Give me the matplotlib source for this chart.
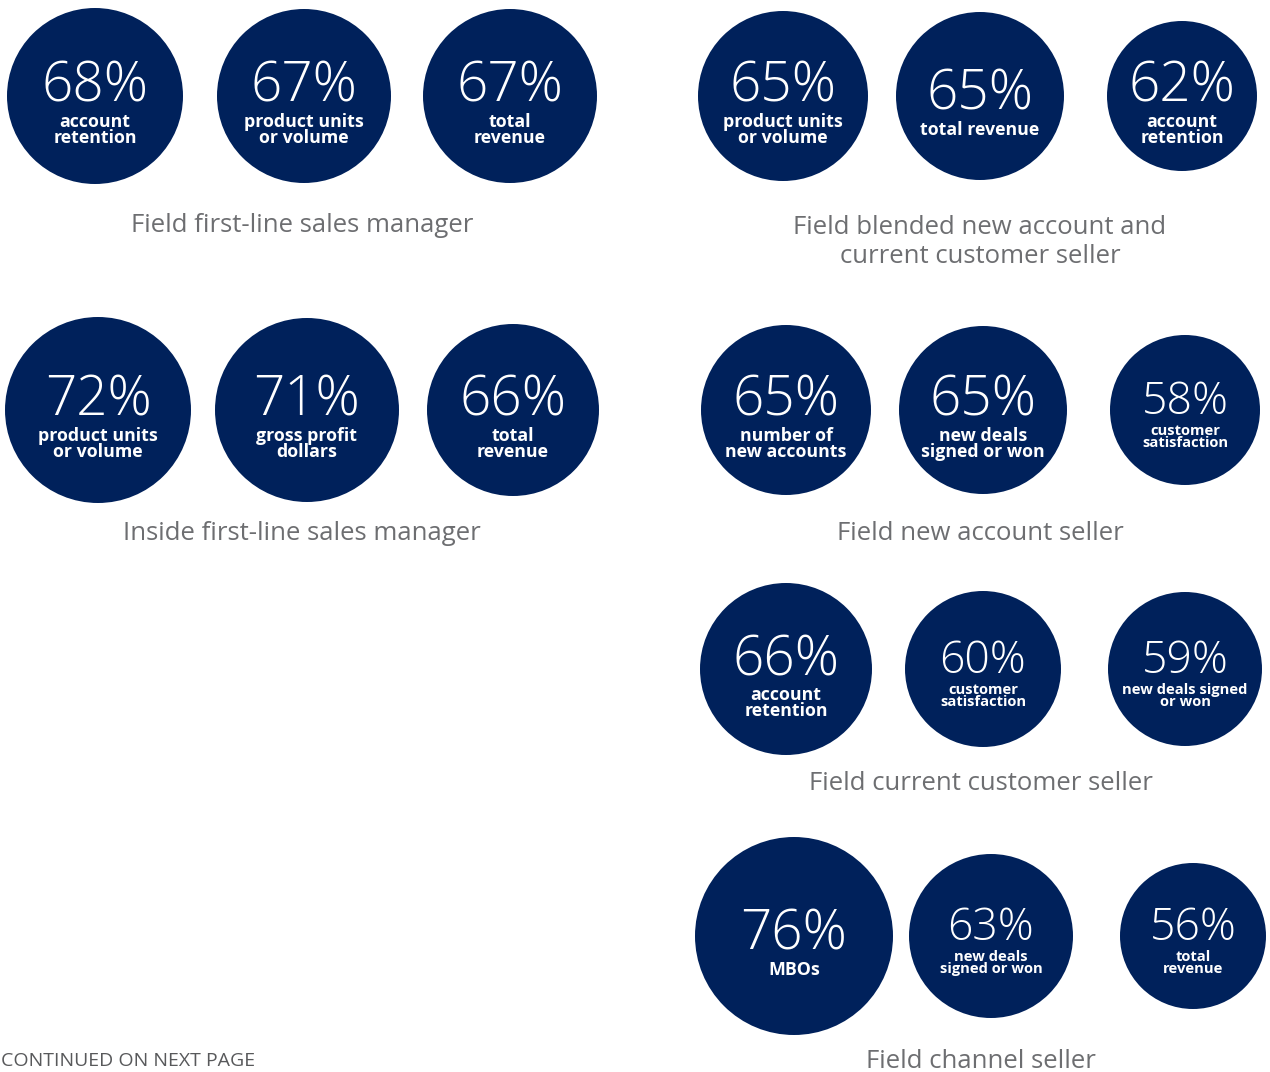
import matplotlib
matplotlib.use("Agg")
import matplotlib.pyplot as plt
from matplotlib.patches import Circle

# survey results: share of respondents per compensation metric
groups = [
    "Field first-line sales manager",
    "Field blended new account and\ncurrent customer seller",
    "Inside first-line sales manager",
    "Field new account seller",
    "Field current customer seller",
    "Field channel seller",
]
values = [
    [68, 67, 67],
    [65, 65, 62],
    [72, 71, 66],
    [65, 65, 58],
    [66, 60, 59],
    [76, 63, 56],
]
metrics = [
    ["account\nretention", "product units\nor volume", "total\nrevenue"],
    ["product units\nor volume", "total revenue", "account\nretention"],
    ["product units\nor volume", "gross profit\ndollars", "total\nrevenue"],
    ["number of\nnew accounts", "new deals\nsigned or won", "customer\nsatisfaction"],
    ["account\nretention", "customer\nsatisfaction", "new deals signed\nor won"],
    ["MBOs", "new deals\nsigned or won", "total\nrevenue"],
]

# layout in pixels: bubble x centres, row y centre, radii, text size class
bubble_x = [
    [95, 304, 510],
    [783, 980, 1182],
    [98, 307, 513],
    [786, 983, 1185],
    [786, 983, 1185],
    [794, 991, 1193],
]
bubble_y = [96, 96, 410, 410, 669, 936]
bubble_r = [
    [88, 87, 87],
    [85, 84, 75],
    [93, 92, 86],
    [85, 84, 75],
    [86, 78, 77],
    [99, 82, 73],
]
size_class = [
    "LLL",
    "LLL",
    "LLL",
    "LLS",
    "LSS",
    "LSS",
]
title_pos = [(302, 226), (980, 242), (302, 534), (980, 534), (981, 783), (981, 1061)]

# per size class: percent size, label size, baseline offset (2-line, 1-line), label offset
STYLE = {
    "L": dict(pct=39.5, sub=12.8, base2=6, base1=14, sub_dy=34, ls=0.85),
    "S": dict(pct=32, sub=10.6, base2=4, base1=10, sub_dy=27, ls=0.85),
}

NAVY = "#00215b"
GREY = "#6d6e71"
FONT = "Open Sans"

W, H = 1270, 1072
fig = plt.figure(figsize=(W / 100, H / 100), dpi=100)
ax = fig.add_axes([0, 0, 1, 1])
ax.set_xlim(0, W)
ax.set_ylim(H, 0)
ax.set_aspect("equal")
ax.axis("off")

for g, title in enumerate(groups):
    cy = bubble_y[g]
    for cx, r, v, lab, sc in zip(bubble_x[g], bubble_r[g], values[g], metrics[g], size_class[g]):
        st = STYLE[sc]
        ax.add_patch(Circle((cx, cy), r, color=NAVY, lw=0))
        one_line = "\n" not in lab
        base = cy + (st["base1"] if one_line else st["base2"])
        ax.text(cx, base, f"{v}%", color="white", ha="center", va="baseline",
                fontsize=st["pct"], family=FONT, fontweight="light")
        ax.text(cx, cy + st["sub_dy"], lab, color="white", ha="center", va="center",
                fontsize=st["sub"], family=FONT, fontweight="bold",
                linespacing=st["ls"])
    tx, ty = title_pos[g]
    ax.text(tx, ty, title, color=GREY, ha="center", va="center",
            fontsize=18.5, family=FONT, linespacing=1.25)

ax.text(1, 1070, "CONTINUED ON NEXT PAGE", color="#58595b", ha="left",
        va="bottom", fontsize=14, family=FONT)

fig.savefig("out.png", dpi=100)
